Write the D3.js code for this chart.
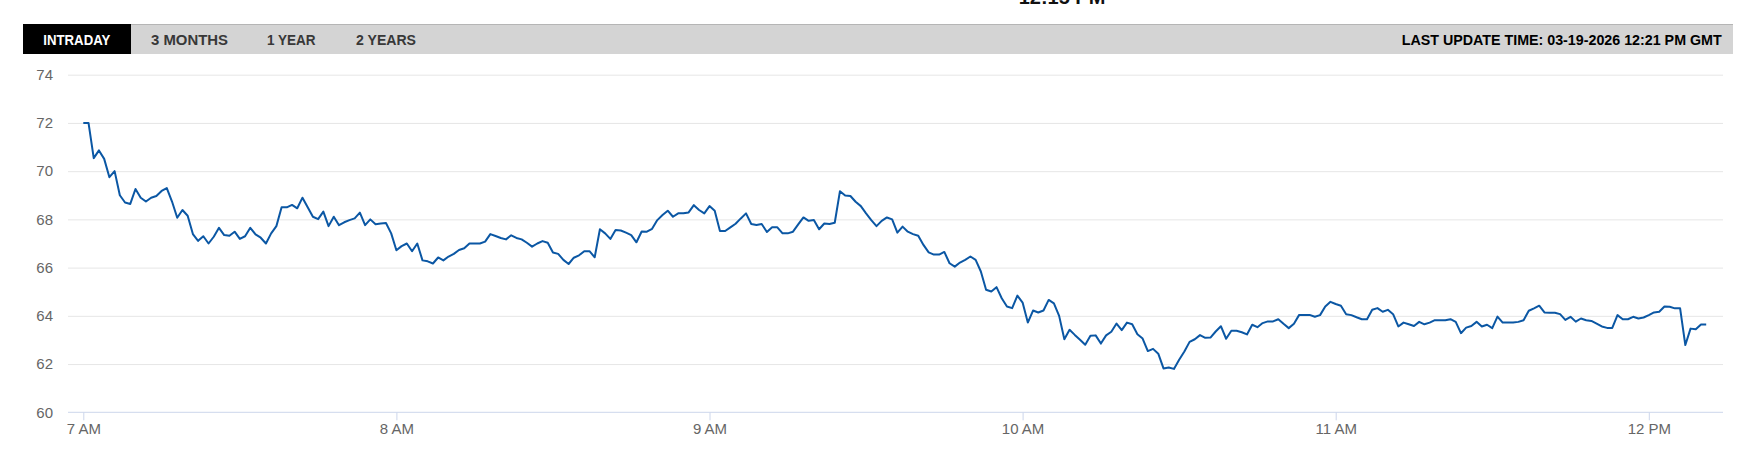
<!DOCTYPE html>
<html>
<head>
<meta charset="utf-8">
<script src="https://cdn.jsdelivr.net/npm/d3@7"></script>
<style>
  html, body { margin: 0; padding: 0; background: #fff; }
  svg { display: block; }
</style>
</head>
<body>
<div id="main"></div>
<script>
// intraday quotes, one per minute from 7:00
var startTime = new Date(2026, 2, 19, 7, 0);
var prices = [
  72.0, 72.0, 70.54, 70.86, 70.51, 69.75, 70.0, 69.0, 68.7, 68.64,
  69.26, 68.9, 68.74, 68.9, 68.97, 69.18, 69.3, 68.74, 68.07, 68.39,
  68.15, 67.39, 67.11, 67.3, 67.0, 67.28, 67.65, 67.35, 67.32, 67.49,
  67.19, 67.3, 67.65, 67.38, 67.24, 67.0, 67.42, 67.72, 68.5, 68.5,
  68.6, 68.46, 68.9, 68.5, 68.11, 68.01, 68.32, 67.72, 68.11, 67.76,
  67.88, 67.97, 68.04, 68.28, 67.76, 68.0, 67.8, 67.83, 67.85, 67.42,
  66.72, 66.89, 67.0, 66.68, 67.0, 66.3, 66.26, 66.17, 66.42, 66.3,
  66.46, 66.57, 66.73, 66.8, 67.0, 67.0, 67.0, 67.08, 67.39, 67.31,
  67.23, 67.17, 67.34, 67.23, 67.17, 67.03, 66.87, 67.0, 67.1, 67.03,
  66.63, 66.57, 66.32, 66.15, 66.41, 66.51, 66.68, 66.68, 66.43, 67.59,
  67.42, 67.19, 67.56, 67.54, 67.45, 67.35, 67.05, 67.5, 67.49, 67.61,
  67.97, 68.18, 68.36, 68.11, 68.25, 68.25, 68.29, 68.59, 68.39, 68.25,
  68.55, 68.36, 67.52, 67.52, 67.67, 67.82, 68.04, 68.25, 67.81, 67.77,
  67.81, 67.48, 67.67, 67.67, 67.42, 67.42, 67.49, 67.79, 68.08, 67.94,
  67.97, 67.59, 67.83, 67.81, 67.86, 69.17, 68.99, 68.97, 68.73, 68.55,
  68.25, 67.97, 67.72, 67.94, 68.08, 68.0, 67.45, 67.7, 67.49, 67.39,
  67.32, 66.94, 66.63, 66.54, 66.54, 66.65, 66.18, 66.04, 66.21, 66.32,
  66.46, 66.32, 65.84, 65.08, 65.01, 65.19, 64.73, 64.39, 64.32, 64.84,
  64.55, 63.72, 64.22, 64.14, 64.22, 64.66, 64.52, 64.0, 63.03, 63.42,
  63.21, 63.01, 62.8, 63.17, 63.19, 62.85, 63.19, 63.34, 63.68, 63.41,
  63.72, 63.65, 63.24, 63.06, 62.54, 62.63, 62.43, 61.82, 61.86, 61.8,
  62.18, 62.52, 62.92, 63.03, 63.2, 63.09, 63.1, 63.35, 63.57, 63.05,
  63.38, 63.38, 63.32, 63.23, 63.63, 63.53, 63.7, 63.77, 63.77, 63.86,
  63.67, 63.49, 63.67, 64.04, 64.04, 64.04, 63.96, 64.03, 64.39, 64.58,
  64.49, 64.42, 64.07, 64.03, 63.94, 63.86, 63.86, 64.25, 64.32, 64.17,
  64.25, 64.07, 63.56, 63.72, 63.65, 63.58, 63.75, 63.65, 63.72, 63.82,
  63.82, 63.82, 63.86, 63.75, 63.28, 63.51, 63.58, 63.75, 63.56, 63.63,
  63.49, 63.97, 63.72, 63.72, 63.72, 63.75, 63.82, 64.21, 64.31, 64.42,
  64.14, 64.13, 64.13, 64.07, 63.83, 63.96, 63.76, 63.89, 63.82, 63.79,
  63.68, 63.56, 63.5, 63.5, 64.03, 63.86, 63.86, 63.96, 63.89, 63.93,
  64.03, 64.14, 64.17, 64.39, 64.38, 64.31, 64.31, 62.79, 63.47, 63.44,
  63.64, 63.64
];
var yTicks = [60, 62, 64, 66, 68, 70, 72, 74];
var tabs = ["INTRADAY", "3 MONTHS", "1 YEAR", "2 YEARS"];
var tabWidths = [67, 77, 48.6, 60];
var tabStarts = [43.3, 151, 267, 356];
var updateLabel = "LAST UPDATE TIME: 03-19-2026 12:21 PM GMT";
var headline = "12:15 PM";

var data = prices.map(function(p, i) {
    return { t: d3.timeMinute.offset(startTime, i), v: p };
});

var W = 1745, H = 465;
var plotLeft = 68, plotRight = 1723;

var svg = d3.select("#main")
        .append("svg")
        .attr("width", W)
        .attr("height", H)
        .style("font-family", "'Liberation Sans', Arial, sans-serif");

// clipped headline above the tab bar
svg.append("text")
    .attr("x", 1062)
    .attr("y", 4)
    .attr("text-anchor", "middle")
    .attr("font-size", 20)
    .attr("font-weight", "bold")
    .attr("fill", "#111")
    .text(headline);

// tab bar
var bar = svg.append("g");
bar.append("rect")
    .attr("x", 23).attr("y", 24)
    .attr("width", 1733 - 23).attr("height", 30)
    .attr("fill", "#d4d4d4");
bar.append("line")
    .attr("x1", 23).attr("x2", 1733)
    .attr("y1", 24.5).attr("y2", 24.5)
    .attr("stroke", "#b5b5b5");
bar.append("rect")
    .attr("x", 23).attr("y", 24)
    .attr("width", 131 - 23).attr("height", 30)
    .attr("fill", "#000");

bar.selectAll("text.tab")
    .data(tabs)
    .enter()
    .append("text")
    .attr("class", "tab")
    .attr("x", function(d, i) { return tabStarts[i]; })
    .attr("y", 44.7)
    .attr("font-size", 14.5)
    .attr("font-weight", "bold")
    .attr("textLength", function(d, i) { return tabWidths[i]; })
    .attr("lengthAdjust", "spacingAndGlyphs")
    .attr("fill", function(d, i) { return i === 0 ? "#fff" : "#383838"; })
    .text(function(d) { return d; });

bar.append("text")
    .attr("x", 1401.7)
    .attr("y", 44.7)
    .attr("font-size", 14)
    .attr("font-weight", "bold")
    .attr("textLength", 320)
    .attr("lengthAdjust", "spacingAndGlyphs")
    .attr("fill", "#000")
    .text(updateLabel);

// scales
var x = d3.scaleTime()
        .domain([new Date(2026, 2, 19, 7, 0), new Date(2026, 2, 19, 12, 0)])
        .range([83.3, 1648.8]);
var y = d3.scaleLinear()
        .domain([60, 74])
        .range([412.3, 74.7]);

// y grid + labels
var yAxis = svg.append("g")
        .attr("transform", "translate(" + plotLeft + ",0)")
        .call(d3.axisLeft(y)
              .tickValues(yTicks)
              .tickSize(-(plotRight - plotLeft))
              .tickPadding(15)
              .tickFormat(d3.format("d")));
yAxis.select(".domain").remove();
yAxis.selectAll(".tick line")
    .attr("stroke", function(d) { return d === 60 ? "none" : "#e6e6e6"; });
yAxis.selectAll(".tick text")
    .attr("font-size", 15)
    .attr("fill", "#666")
    .attr("font-family", "'Liberation Sans', Arial, sans-serif");

// x axis
var xAxis = svg.append("g")
        .attr("transform", "translate(0," + y(60) + ")")
        .call(d3.axisBottom(x)
              .ticks(d3.timeHour.every(1))
              .tickFormat(d3.timeFormat("%-I %p"))
              .tickSize(8)
              .tickSizeOuter(0)
              .tickPadding(3));
xAxis.select(".domain").remove();
xAxis.selectAll(".tick line").attr("stroke", "#ccd6eb");
xAxis.selectAll(".tick text")
    .attr("font-size", 15)
    .attr("fill", "#666")
    .attr("font-family", "'Liberation Sans', Arial, sans-serif");
xAxis.append("line")
    .attr("x1", plotLeft).attr("x2", plotRight)
    .attr("y1", 0).attr("y2", 0)
    .attr("stroke", "#ccd6eb");

// price line
var line = d3.line()
        .x(function(d) { return x(d.t); })
        .y(function(d) { return y(d.v); });

svg.append("path")
    .datum(data)
    .attr("d", line)
    .attr("fill", "none")
    .attr("stroke", "#0b57a4")
    .attr("stroke-width", 2)
    .attr("stroke-linejoin", "round");
</script>
</body>
</html>
